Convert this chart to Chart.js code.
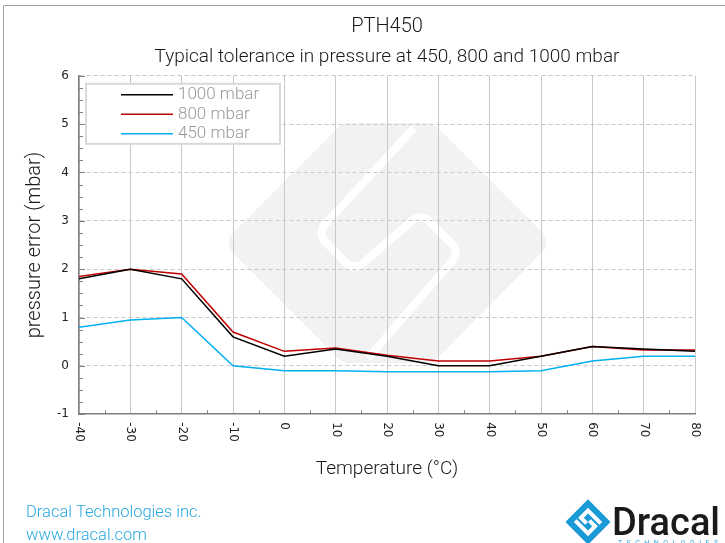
<!DOCTYPE html>
<html>
<head>
<meta charset="utf-8">
<script src="https://cdn.jsdelivr.net/npm/chart.js@4.4.1/dist/chart.umd.min.js"></script>
<style>
  html, body { margin: 0; padding: 0; background: #fff; }
  #wrap { width: 725px; height: 543px; position: relative; }
</style>
</head>
<body>
<div id="wrap"><canvas id="c" width="725" height="543"></canvas></div>
<script>
const temperatures = [-40, -30, -20, -10, 0, 10, 20, 30, 40, 50, 60, 70, 80];
const err1000 = [1.8, 2.0, 1.8, 0.6, 0.2, 0.35, 0.2, 0.0, 0.0, 0.2, 0.4, 0.35, 0.3];
const err800  = [1.85, 2.0, 1.9, 0.7, 0.3, 0.37, 0.22, 0.1, 0.1, 0.2, 0.4, 0.33, 0.33];
const err450  = [0.8, 0.95, 1.0, 0.0, -0.1, -0.1, -0.12, -0.12, -0.12, -0.1, 0.1, 0.2, 0.2];
const seriesNames = ['1000 mbar', '800 mbar', '450 mbar'];
const xTicks = [-40, -30, -20, -10, 0, 10, 20, 30, 40, 50, 60, 70, 80];
const yTicks = [-1, 0, 1, 2, 3, 4, 5, 6];

const NARROW = 'Roboto, "Liberation Sans", sans-serif';
const TICKFONT = '"DejaVu Sans", Verdana, sans-serif';

const toPoints = arr => temperatures.map((t, i) => ({ x: t, y: arr[i] }));

function roundPoly(ctx, pts, r, closed) {
  ctx.beginPath();
  if (closed) {
    const n = pts.length;
    const m = [(pts[0][0] + pts[n - 1][0]) / 2, (pts[0][1] + pts[n - 1][1]) / 2];
    ctx.moveTo(m[0], m[1]);
    for (let i = 0; i < n; i++) {
      const a = pts[i], b = pts[(i + 1) % n];
      ctx.arcTo(a[0], a[1], b[0], b[1], r);
    }
    ctx.closePath();
  } else {
    ctx.moveTo(pts[0][0], pts[0][1]);
    for (let i = 1; i < pts.length - 1; i++) {
      ctx.arcTo(pts[i][0], pts[i][1], pts[i + 1][0], pts[i + 1][1], r);
    }
    const l = pts[pts.length - 1];
    ctx.lineTo(l[0], l[1]);
  }
}

const decor = {
  id: 'decor',
  beforeDraw(chart) {
    const ctx = chart.ctx;
    ctx.save();
    // frame lines
    ctx.strokeStyle = '#a0a0a0';
    ctx.lineWidth = 1;
    ctx.beginPath();
    ctx.moveTo(3.5, 6); ctx.lineTo(3.5, 543);
    ctx.moveTo(3.5, 5.5); ctx.lineTo(725, 5.5);
    ctx.stroke();
    // watermark (logo shape, light grey)
    ctx.fillStyle = '#f2f2f2';
    roundPoly(ctx, [[223, 243], [343, 123], [433, 123], [552, 242], [433, 363], [343, 363]], 14, true);
    ctx.fill();
    ctx.strokeStyle = '#ffffff';
    ctx.lineWidth = 8;
    ctx.lineCap = 'butt';
    roundPoly(ctx, [[414, 128], [317, 233], [354, 271], [421, 213], [460, 252], [368, 358]], 12, false);
    ctx.stroke();
    ctx.restore();
  },
  afterDraw(chart) {
    const ctx = chart.ctx;
    const x = chart.scales.x, y = chart.scales.y;
    const area = chart.chartArea;
    ctx.save();
    // minor ticks (inside the plot)
    ctx.strokeStyle = '#808080';
    ctx.lineWidth = 1;
    ctx.beginPath();
    for (let v = -1; v <= 6.001; v += 0.25) {
      const py = Math.round(y.getPixelForValue(v)) + 0.5;
      const len = Math.abs(v - Math.round(v)) < 1e-6 ? 6 : 4;
      ctx.moveTo(area.left, py); ctx.lineTo(area.left + len, py);
    }
    for (let v = -35; v <= 80; v += 10) {
      const px = Math.round(x.getPixelForValue(v)) + 0.5;
      ctx.moveTo(px, area.bottom); ctx.lineTo(px, area.bottom - 4);
    }
    ctx.stroke();
    // x tick labels, rotated clockwise
    ctx.fillStyle = '#222';
    ctx.font = '12px ' + TICKFONT;
    ctx.textAlign = 'left';
    ctx.textBaseline = 'middle';
    xTicks.forEach(v => {
      const px = x.getPixelForValue(v);
      ctx.save();
      ctx.translate(px, area.bottom + 8);
      ctx.rotate(Math.PI / 2);
      ctx.fillText(String(v), 0, 0);
      ctx.restore();
    });
    // footer
    ctx.fillStyle = '#29a8e0';
    ctx.font = '300 16.5px ' + NARROW;
    ctx.textBaseline = 'alphabetic';
    ctx.fillText('Dracal Technologies inc.', 26, 517);
    ctx.fillText('www.dracal.com', 26, 540);
    // logo
    ctx.save();
    ctx.translate(588, 522);
    ctx.rotate(Math.PI / 4);
    ctx.fillStyle = '#1a9ad6';
    ctx.beginPath();
    ctx.rect(-16, -16, 32, 32);
    ctx.fill();
    ctx.strokeStyle = '#ffffff';
    ctx.lineWidth = 4;
    ctx.beginPath();
    ctx.moveTo(10, -8); ctx.lineTo(-8, -8); ctx.lineTo(-8, 2); ctx.lineTo(0, 2);
    ctx.moveTo(-10, 8); ctx.lineTo(8, 8); ctx.lineTo(8, -2); ctx.lineTo(0, -2);
    ctx.stroke();
    ctx.restore();
    ctx.fillStyle = '#1a1a1a';
    ctx.font = '500 38px ' + NARROW;
    ctx.fillText('Dracal', 612, 535);
    ctx.fillStyle = '#29a8e0';
    ctx.font = '7px ' + NARROW;
    if ('letterSpacing' in ctx) ctx.letterSpacing = '4.5px';
    ctx.fillText('TECHNOLOGIES', 618, 545);
    ctx.restore();
  }
};

const legendBox = {
  id: 'legendBox',
  afterDatasetsDraw(chart) {
    const ctx = chart.ctx;
    const area = chart.chartArea;
    const bx = area.left + 7, by = area.top + 8, bw = 194, bh = 60;
    ctx.save();
    ctx.fillStyle = '#ffffff';
    ctx.fillRect(bx, by, bw, bh);
    ctx.strokeStyle = '#d9d9d9';
    ctx.lineWidth = 2;
    ctx.strokeRect(bx, by, bw, bh);
    ctx.font = '300 17px ' + NARROW;
    ctx.textBaseline = 'middle';
    chart.data.datasets.forEach((ds, i) => {
      const ly = by + 11 + i * 19.5;
      ctx.strokeStyle = ds.borderColor;
      ctx.lineWidth = 1.5;
      ctx.beginPath();
      ctx.moveTo(bx + 35, ly); ctx.lineTo(bx + 87, ly);
      ctx.stroke();
      ctx.fillStyle = '#9a9a9a';
      ctx.fillText(ds.label, bx + 92, ly);
    });
    ctx.restore();
  }
};

new Chart(document.getElementById('c'), {
  type: 'line',
  data: {
    datasets: [
      { label: seriesNames[0], data: toPoints(err1000), borderColor: '#000000', borderWidth: 1.5, pointRadius: 0, tension: 0, fill: false },
      { label: seriesNames[1], data: toPoints(err800), borderColor: '#c00000', borderWidth: 1.5, pointRadius: 0, tension: 0, fill: false },
      { label: seriesNames[2], data: toPoints(err450), borderColor: '#00b0f0', borderWidth: 1.5, pointRadius: 0, tension: 0, fill: false }
    ]
  },
  options: {
    responsive: false,
    animation: false,
    devicePixelRatio: 1,
    layout: { padding: { left: 0, right: 30, top: 0, bottom: 62 } },
    plugins: {
      legend: { display: false },
      tooltip: { enabled: false },
      title: {
        display: true,
        fullSize: false,
        text: 'PTH450',
        color: '#1a1a1a',
        font: { family: NARROW, size: 20, weight: 300, lineHeight: 1.2 },
        padding: { top: 15, bottom: 0 }
      },
      subtitle: {
        display: true,
        fullSize: false,
        text: 'Typical tolerance in pressure at 450, 800 and 1000 mbar',
        color: '#1a1a1a',
        font: { family: NARROW, size: 19, weight: 300, lineHeight: 1.2 },
        padding: { top: 7, bottom: 7 }
      }
    },
    scales: {
      x: {
        type: 'linear',
        min: -40, max: 80,
        afterBuildTicks: s => { s.ticks = xTicks.map(v => ({ value: v })); },
        ticks: { display: false },
        grid: { color: '#c8c8c8', lineWidth: 1, drawTicks: false },
        border: { color: '#808080', width: 1.5 },
        title: {
          display: true,
          text: 'Temperature (°C)',
          color: '#1a1a1a',
          font: { family: NARROW, size: 19, weight: 300, lineHeight: 1.2 },
          padding: { top: 44, bottom: 0 }
        }
      },
      y: {
        min: -1, max: 6,
        afterBuildTicks: s => { s.ticks = yTicks.map(v => ({ value: v })); },
        afterFit: s => { s.width = 79; },
        ticks: {
          color: '#222',
          font: { family: TICKFONT, size: 12 },
          padding: 10,
          callback: v => String(v)
        },
        grid: { color: ctx => ctx.tick && ctx.tick.value === -1 ? 'rgba(0,0,0,0)' : '#c8c8c8', lineWidth: 1, drawTicks: false },
        border: { color: '#808080', width: 1.5, dash: [4, 3] },
        title: {
          display: true,
          text: 'pressure error (mbar)',
          color: '#1a1a1a',
          font: { family: NARROW, size: 20, weight: 300, lineHeight: 1.2 },
          padding: { top: 23, bottom: 0 }
        }
      }
    }
  },
  plugins: [decor, legendBox]
});
</script>
</body>
</html>
